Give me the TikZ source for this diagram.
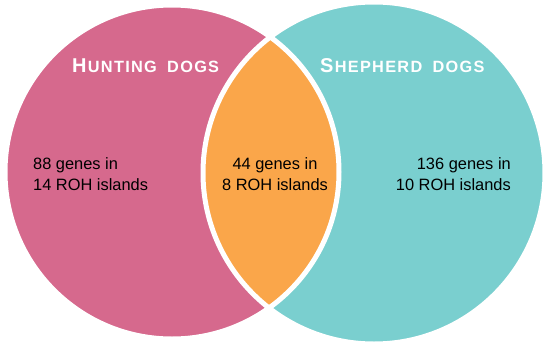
\documentclass[tikz,border=0pt]{standalone}
\usepackage{fontspec}
\setmainfont{Liberation Sans}
\definecolor{huntpink}{RGB}{214,105,141}
\definecolor{shepteal}{RGB}{122,207,207}
\definecolor{lensorange}{RGB}{250,166,74}
\def\lspaced#1{\lspacedA#1\relax}
\def\lspacedA#1{\ifx#1\relax\else#1\kern1.3pt\expandafter\lspacedA\fi}
\newcommand{\mybigcap}[1]{{\fontsize{20}{20}\selectfont #1}\kern1.3pt}
\newcommand{\mysmallcap}[2]{{\fontsize{16.3}{16.3}\selectfont\lspaced{#1}\kern9pt\lspaced{#2}}}
\begin{document}
\begin{tikzpicture}[x=1pt,y=-1pt,
  titletext/.style={text=white,font=\bfseries,anchor=base west,inner sep=0pt},
  bodytext/.style={text=black,font=\fontsize{16.4}{20}\selectfont,inner sep=0pt}]
\useasboundingbox (0,0) rectangle (550,349);
\coordinate (c1) at (172,172);
\coordinate (c2) at (374,173);
\fill[huntpink] (c1) circle[radius=167pt];
\fill[shepteal] (c2) circle[radius=171pt];
\begin{scope}
  \clip (c1) circle[radius=167pt];
  \fill[lensorange] (c2) circle[radius=171pt];
\end{scope}
\draw[white,line width=5pt] (c1) circle[radius=167pt];
\draw[white,line width=5pt] (c2) circle[radius=171pt];
\node[titletext] (hunt) at (72,72.7) {\mybigcap{H}\mysmallcap{UNTING}{DOGS}};
\node[titletext] (shep) at (320,72.7) {\mybigcap{S}\mysmallcap{HEPHERD}{DOGS}};
\node[bodytext,anchor=base west] (l1) at (33,169) {88 genes in};
\node[bodytext,anchor=base west] (l2) at (33,190.7) {14 ROH islands};
\node[bodytext,anchor=base] (m1) at (275,169) {44 genes in};
\node[bodytext,anchor=base] (m2) at (275,190.7) {8 ROH islands};
\node[bodytext,anchor=base east] (r1) at (511,169) {136 genes in};
\node[bodytext,anchor=base east] (r2) at (511,190.7) {10 ROH islands};
\end{tikzpicture}
\end{document}
